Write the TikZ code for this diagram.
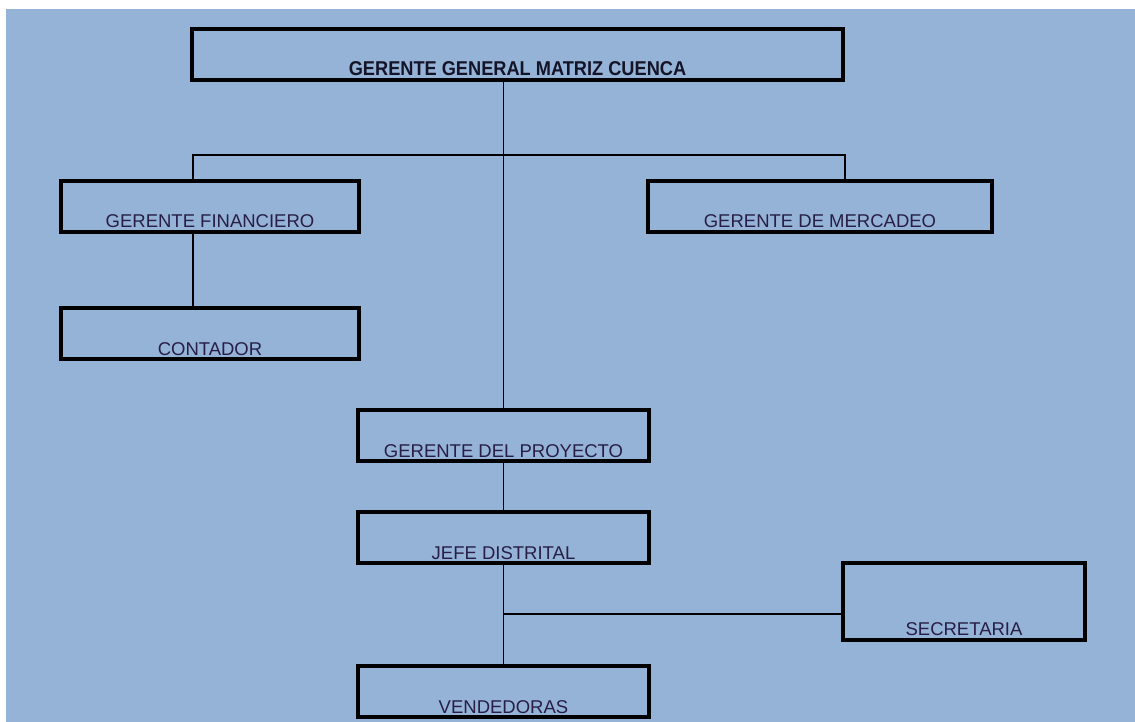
\documentclass[tikz,border=0pt]{standalone}
\usepackage{fontspec}
\setmainfont{Liberation Sans}
\newfontfamily\titulofont[FakeStretch=0.91]{Liberation Sans}
\definecolor{fondo}{RGB}{149,179,215}
\definecolor{letra}{RGB}{40,30,70}
\tikzset{
  cargo/.style={draw=black, line width=3.4pt, inner sep=0pt, text depth=4pt,
    font=\fontsize{18.5}{20}\selectfont, text=letra},
  enlace/.style={draw=black, line width=1.2pt}
}
\begin{document}
\begin{tikzpicture}[x=1pt, y=-1pt]
% Margins and background
\useasboundingbox (0,0) rectangle (1135,722);
\fill[white] (0,0) rectangle (1135,722);
\fill[fondo] (6,9) rectangle (1135,722);
% Boxes
\node[cargo, minimum width=651pt, text height=47pt, text={rgb,255:red,20;green,20;blue,40},
  font=\titulofont\fontsize{20}{22}\selectfont\bfseries] (gral) at (517.5,54.5) {GERENTE GENERAL MATRIZ CUENCA};
\node[cargo, minimum width=298pt, text height=47pt] (fin) at (210,206.5) {GERENTE FINANCIERO};
\node[cargo, minimum width=298pt, text height=47pt] (cont) at (210,333.5) {CONTADOR};
\node[cargo, minimum width=344pt, text height=47pt] (merc) at (820,206.5) {GERENTE DE MERCADEO};
\node[cargo, minimum width=291pt, text height=47pt] (proy) at (503.5,435.5) {GERENTE DEL PROYECTO};
\node[cargo, minimum width=291pt, text height=47pt] (jefe) at (503.5,537.5) {JEFE DISTRITAL};
\node[cargo, minimum width=242pt, text height=72pt, text depth=5pt] (secr) at (964,601.5) {SECRETARIA};
\node[cargo, minimum width=291pt, text height=47pt] (vend) at (503.5,691.5) {VENDEDORAS};
% Connectors
\coordinate (ramaI) at (193,155);
\coordinate (ramaD) at (845,155);
\coordinate (ramaS) at (503.5,614);
\draw[enlace] (proy.north |- gral.south) -- (proy.north);
\draw[enlace] (fin.north -| ramaI) -- (ramaI) -- (ramaD) -- (merc.north -| ramaD);
\draw[enlace] (fin.south -| ramaI) -- (cont.north -| ramaI);
\draw[enlace] (proy.south) -- (jefe.north);
\draw[enlace] (jefe.south) -- (vend.north);
\draw[enlace] (ramaS) -- (secr.west |- ramaS);
\end{tikzpicture}
\end{document}
